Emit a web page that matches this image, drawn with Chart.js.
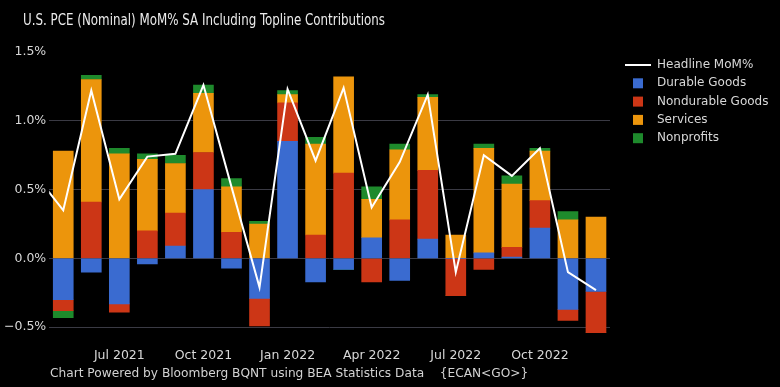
<!DOCTYPE html>
<html>
<head>
<meta charset="utf-8">
<script src="https://cdn.jsdelivr.net/npm/chart.js@4.4.1/dist/chart.umd.min.js"></script>
<style>
  body { margin: 0; background: #000; }
  #wrap { position: relative; width: 780px; height: 387px; overflow: hidden; }
  #title {
    position: absolute; left: 23px; top: 11px;
    font: 16.5px "DejaVu Sans Condensed", "DejaVu Sans", sans-serif;
    line-height: 17px; color: #ececec; white-space: pre;
    transform: scaleX(0.80); transform-origin: 0 0;
  }
  #footer {
    position: absolute; left: 50px; top: 366px;
    font: 12.2px "DejaVu Sans", sans-serif;
    line-height: 14px; color: #d2d2d2; white-space: pre;
  }
</style>
</head>
<body>
<div id="wrap">
  <canvas id="pceChart" width="780" height="387"></canvas>
  <div id="title">U.S. PCE (Nominal) MoM% SA Including Topline Contributions</div>
  <div id="footer">Chart Powered by Bloomberg BQNT using BEA Statistics Data    {ECAN&lt;GO&gt;}</div>
</div>
<script>
// months on the x axis (Apr 2021 only feeds the start of the headline line)
const months = ['Apr 2021', 'May 2021', 'Jun 2021', 'Jul 2021', 'Aug 2021', 'Sep 2021',
  'Oct 2021', 'Nov 2021', 'Dec 2021', 'Jan 2022', 'Feb 2022', 'Mar 2022', 'Apr 2022',
  'May 2022', 'Jun 2022', 'Jul 2022', 'Aug 2022', 'Sep 2022', 'Oct 2022', 'Nov 2022', 'Dec 2022'];
const tickLabels = ['Jul 2021', 'Oct 2021', 'Jan 2022', 'Apr 2022', 'Jul 2022', 'Oct 2022'];
const yTicks = [-0.5, 0, 0.5, 1.0, 1.5];

// values in %
const headline = [0.61, 0.35, 1.22, 0.43, 0.74, 0.76, 1.26, 0.52, -0.21, 1.23, 0.71,
  1.24, 0.37, 0.70, 1.19, -0.10, 0.75, 0.60, 0.80, -0.10, -0.23];
const durable = [null, -0.30, -0.10, -0.33, -0.04, 0.09, 0.50, -0.07, -0.29, 0.85, -0.17,
  -0.08, 0.15, -0.16, 0.14, 0.00, 0.04, 0.01, 0.22, -0.37, -0.24];
const nondurable = [null, -0.08, 0.41, -0.06, 0.20, 0.24, 0.27, 0.19, -0.20, 0.28, 0.17,
  0.62, -0.17, 0.28, 0.50, -0.27, -0.08, 0.07, 0.20, -0.08, -0.30];
const services = [null, 0.78, 0.89, 0.76, 0.52, 0.36, 0.43, 0.33, 0.25, 0.06, 0.66,
  0.70, 0.28, 0.51, 0.53, 0.17, 0.76, 0.46, 0.36, 0.28, 0.30];
const nonprofits = [null, -0.05, 0.03, 0.04, 0.04, 0.06, 0.06, 0.06, 0.02, 0.03, 0.05,
  0.00, 0.09, 0.04, 0.02, 0.00, 0.03, 0.06, 0.02, 0.06, 0.00];

const toXY = arr => arr.map((v, i) => ({ x: i, y: v }));
const textColor = '#d8d8d8';

Chart.defaults.font.family = 'DejaVu Sans';

// legend drawn on the right, top aligned
const sideLegend = {
  id: 'sideLegend',
  afterDraw(chart) {
    const c = chart.ctx;
    c.save();
    c.font = '12px "DejaVu Sans"';
    c.textBaseline = 'middle';
    chart.data.datasets.forEach((ds, i) => {
      const y = 65 + i * 18.3;
      if (ds.type === 'line') {
        c.strokeStyle = ds.borderColor;
        c.lineWidth = 2;
        c.beginPath();
        c.moveTo(625, y);
        c.lineTo(651, y);
        c.stroke();
      } else {
        c.fillStyle = ds.backgroundColor;
        c.fillRect(633, y - 5, 10, 10);
      }
      c.fillStyle = textColor;
      c.fillText(ds.label, 657, y);
    });
    c.restore();
  }
};

new Chart(document.getElementById('pceChart'), {
  type: 'bar',
  data: {
    datasets: [
      {
        type: 'line',
        label: 'Headline MoM%',
        data: toXY(headline),
        borderColor: '#ffffff',
        borderWidth: 2,
        pointRadius: 0,
        tension: 0,
        stack: 'headline',
        order: 0,
      },
      { label: 'Durable Goods', data: toXY(durable), backgroundColor: '#3a6bd0', order: 1 },
      { label: 'Nondurable Goods', data: toXY(nondurable), backgroundColor: '#cc3616', order: 1 },
      { label: 'Services', data: toXY(services), backgroundColor: '#ec950c', order: 1 },
      { label: 'Nonprofits', data: toXY(nonprofits), backgroundColor: '#1e8a2c', order: 1 },
    ],
  },
  options: {
    responsive: false,
    animation: false,
    devicePixelRatio: 1,
    barThickness: 20,
    layout: { padding: { left: 1, right: 170, top: 52, bottom: 17 } },
    plugins: {
      legend: { display: false },
      tooltip: { enabled: false },
    },
    scales: {
      x: {
        type: 'linear',
        min: 0.5,
        max: 20.5,
        offset: false,
        stacked: true,
        grid: { display: false, drawTicks: false },
        border: { display: false },
        afterBuildTicks: axis => {
          axis.ticks = tickLabels.map(l => ({ value: months.indexOf(l) }));
        },
        ticks: {
          callback: v => months[v],
          color: textColor,
          font: { size: 12.5 },
          padding: 7,
          maxRotation: 0,
          autoSkip: false,
        },
      },
      y: {
        stacked: true,
        min: -0.6,
        max: 1.5,
        afterBuildTicks: axis => {
          axis.ticks = yTicks.map(v => ({ value: v }));
        },
        grid: {
          color: ctx => (ctx.tick && ctx.tick.value === 1.5 ? 'rgba(0,0,0,0)' : '#3a3a44'),
          drawTicks: false,
        },
        border: { display: false },
        ticks: {
          callback: v => (v < 0 ? '\u2212' : '') + Math.abs(v).toFixed(1) + '%',
          color: textColor,
          font: { size: 12.5 },
          padding: 3,
        },
      },
    },
  },
  plugins: [sideLegend],
});
</script>
</body>
</html>
